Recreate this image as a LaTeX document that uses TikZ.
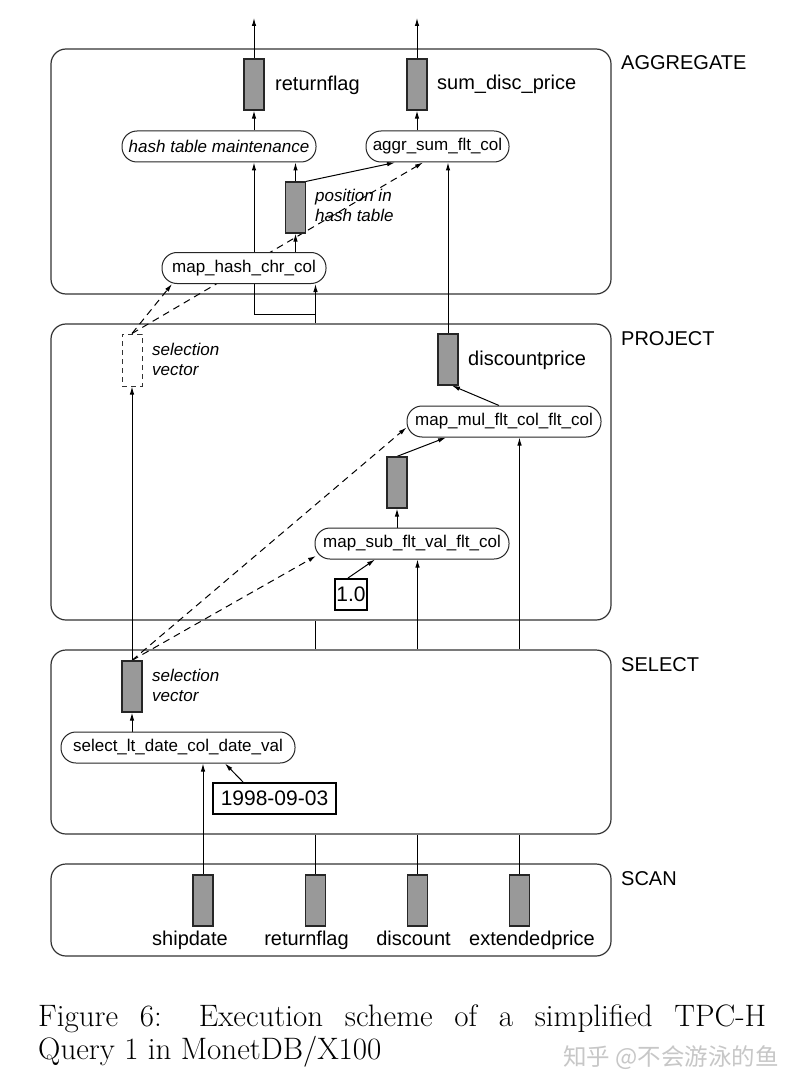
\documentclass[tikz,border=0pt]{standalone}
\usepackage{fontspec}
\newfontfamily\hv{Liberation Sans}
\newfontfamily\cjk{Noto Sans CJK SC}
\usetikzlibrary{arrows.meta,calc}
\pgfdeclarelayer{boxlayer}
\pgfdeclarelayer{linelayer}
\pgfsetlayers{boxlayer,linelayer,main}
\begin{document}
\begin{tikzpicture}[x=1pt,y=-1pt,
  line width=1pt, >={Latex[length=8pt,width=4.5pt]},
  layerbox/.style={draw=black!80, line width=1.2pt, rounded corners=15pt, fill=white, inner sep=0pt},
  op/.style={draw=black!85, line width=1pt, rounded corners=15pt, fill=white, minimum height=31pt, inner sep=0pt, font=\hv\fontsize{17}{19}\selectfont},
  colbar/.style={draw=black!85, line width=1.2pt, fill=gray!80, minimum width=20pt, minimum height=51pt, inner sep=0pt},
  svbox/.style={draw=black!80, line width=1pt, dash pattern=on 5pt off 4pt, minimum width=20pt, minimum height=52pt, inner sep=0pt},
  big/.style={font=\hv\fontsize{20}{24}\selectfont, inner sep=0pt},
  ital/.style={font=\hv\itshape\fontsize{17}{20}\selectfont, inner sep=0pt},
  valbox/.style={draw=black, line width=2pt, minimum height=31pt, inner sep=0pt, font=\hv\fontsize{21}{24}\selectfont},
  conn/.style={draw=black, line width=1pt},
  dconn/.style={draw=black, line width=1pt, dash pattern=on 7pt off 5pt},
]
\useasboundingbox (0,0) rectangle (799,1091);
\begin{pgfonlayer}{boxlayer}
  \fill[white] (0,0) rectangle (799,1091);
  \node[layerbox, minimum width=560pt, minimum height=245pt] (Lagg) at (331,171.5) {};
  \node[layerbox, minimum width=560pt, minimum height=296pt] (Lproj) at (331,472) {};
  \node[layerbox, minimum width=560pt, minimum height=184pt] (Lsel) at (331,742) {};
  \node[layerbox, minimum width=560pt, minimum height=92pt] (Lscan) at (331,910) {};
\end{pgfonlayer}

% layer labels
\node[big, anchor=base west] (tAgg) at (621,70) {AGGREGATE};
\node[big, anchor=base west] (tProj) at (621,345) {PROJECT};
\node[big, anchor=base west] (tSel) at (621,671) {SELECT};
\node[big, anchor=base west] (tScan) at (621,885) {SCAN};

% operator nodes
\node[op, minimum width=194pt] (htm) at (219,146.5) {\itshape hash table maintenance};
\node[op, minimum width=143pt] (aggr) at (437.5,146.5) {aggr\_sum\_flt\_col};
\node[op, minimum width=164pt] (mhash) at (244,268) {map\_hash\_chr\_col};
\node[op, minimum width=194pt] (mmul) at (504,421.5) {map\_mul\_flt\_col\_flt\_col};
\node[op, minimum width=194pt] (msub) at (412,543.5) {map\_sub\_flt\_val\_flt\_col};
\node[op, minimum width=234pt] (sel) at (178,747.5) {select\_lt\_date\_col\_date\_val};

% value boxes
\node[valbox, minimum width=32pt] (one) at (351,594.5) {1.0};
\node[valbox, minimum width=123pt] (date) at (274.5,798.5) {1998-09-03};

% column bars
\node[colbar] (barRF) at (254,84.5) {};
\node[colbar] (barSDP) at (417,84.5) {};
\node[colbar] (barPos) at (295.5,207.5) {};
\node[svbox] (sv1) at (132,360) {};
\node[colbar] (barDP) at (448,359.5) {};
\node[colbar] (barMid) at (397,482.5) {};
\node[colbar] (sv2) at (132,686.5) {};
\node[colbar] (scanSD) at (203,900.5) {};
\node[colbar] (scanRF) at (315.5,900.5) {};
\node[colbar] (scanD) at (417.5,900.5) {};
\node[colbar] (scanEP) at (519.5,900.5) {};

% labels
\node[big, anchor=base west] (lRF) at (275,91) {returnflag};
\node[big, anchor=base west] (lSDP) at (437,90) {sum\_disc\_price};
\node[big, anchor=base west] (lDP) at (468,365) {discountprice};
\node[ital, anchor=base west] (lPos1) at (315,202) {position in};
\node[ital, anchor=base west] (lPos2) at (315,222) {hash table};
\node[ital, anchor=base west] (lSv1a) at (152,355) {selection};
\node[ital, anchor=base west] (lSv1b) at (152,375.5) {vector};
\node[ital, anchor=base west] (lSv2a) at (152,681) {selection};
\node[ital, anchor=base west] (lSv2b) at (152,701.5) {vector};
\node[big, anchor=base] (sSD) at (190,945) {shipdate};
\node[big, anchor=base] (sRF) at (306.5,945) {returnflag};
\node[big, anchor=base] (sD) at (413.5,945) {discount};
\node[big, anchor=base] (sEP) at (532,945) {extendedprice};

% caption
\node[anchor=base west, inner sep=0pt, font=\fontsize{31}{33}\selectfont] (cap1) at (38,1026) {\makebox[728pt][s]{Figure 6: Execution scheme of a simplified TPC-H}};
\node[anchor=base west, inner sep=0pt, font=\fontsize{31}{33}\selectfont] (cap2) at (38,1059) {Query 1 in MonetDB/X100};
\node[anchor=base west, inner sep=0pt, font=\cjk\fontsize{23.5}{25}\selectfont, text=black!22] (wm) at (563,1065) {知乎 @不会游泳的鱼};

\coordinate (outRF) at (254,18);
\coordinate (outSDP) at (417,18);
\coordinate (elb) at (315.5,314);

\begin{pgfonlayer}{linelayer}
  % aggregate
  \draw[conn,->] (barRF.north) -- (outRF);
  \draw[conn,->] (barSDP.north) -- (outSDP);
  \draw[conn,->] (barRF.south |- htm.north) -- (barRF.south);
  \draw[conn,->] (barSDP.south |- aggr.north) -- (barSDP.south);
  \draw[conn,->] (barPos.north) -- (barPos.north |- htm.south);
  \draw[conn,->] (barPos.north east) -- ([xshift=-42.5pt]aggr.south);
  \draw[conn,->] (barPos.south |- mhash.north) -- (barPos.south);
  \draw[conn,->] (scanRF.north |- Lproj.north) -- (elb) -- (elb -| barRF) -- (barRF.south |- htm.south);
  \draw[conn,->] (elb) -- (elb |- mhash.south);
  \draw[conn,->] (barDP.north) -- (barDP.north |- aggr.south);
  \draw[dconn,->] (sv1.north) -- ([xshift=-72pt]mhash.south);
  \draw[dconn,->] (sv1.north) -- ([xshift=-14.5pt]aggr.south);
  % project
  \draw[conn,->] ([xshift=-5pt]mmul.north) -- ([xshift=4pt]barDP.south);
  \draw[conn,->] (barMid.north) -- ([xshift=-58pt]mmul.south);
  \draw[conn,->] (barMid.south |- msub.north) -- (barMid.south);
  \draw[conn,->] ([xshift=-3pt]one.north) -- ([xshift=-37pt]msub.south);
  \draw[conn,->] (sv2.north) -- (sv1.south);
  \draw[dconn,->] (sv2.north) -- ([yshift=-6pt]mmul.west);
  \draw[dconn,->] (sv2.north) -- ([xshift=-96pt,yshift=-12.5pt]msub.center);
  % select
  \draw[conn,->] (sv2.south |- sel.north) -- (sv2.south);
  \draw[conn,->] ([xshift=-31.5pt]date.north) -- ([xshift=47pt]sel.south);
  \draw[conn,->] (scanSD.north) -- (scanSD.north |- sel.south);
  % scan columns
  \draw[conn] (scanRF.north) -- (scanRF.north |- Lsel.south);
  \draw[conn] (scanRF.north |- Lsel.north) -- (scanRF.north |- Lproj.south);
  \draw[conn] (scanD.north) -- (scanD.north |- Lsel.south);
  \draw[conn,->] (scanD.north |- Lsel.north) -- (scanD.north |- msub.south);
  \draw[conn] (scanEP.north) -- (scanEP.north |- Lsel.south);
  \draw[conn,->] (scanEP.north |- Lsel.north) -- (scanEP.north |- mmul.south);
\end{pgfonlayer}
\end{tikzpicture}
\end{document}
